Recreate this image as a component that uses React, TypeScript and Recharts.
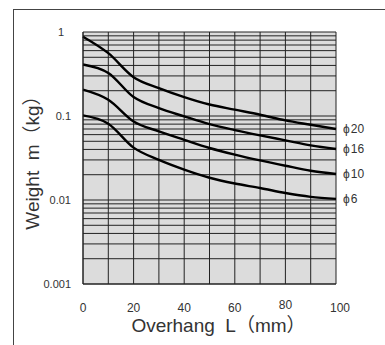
import React from "react";
import { LineChart, Line, XAxis, YAxis, CartesianGrid, Label } from "recharts";

const overhang = [0, 10, 20, 30, 40, 50, 60, 70, 80, 90, 100];
const phi20 = [0.88, 0.56, 0.29, 0.215, 0.168, 0.137, 0.119, 0.1036, 0.0887, 0.0787, 0.07];
const phi16 = [0.41, 0.325, 0.168, 0.124, 0.099, 0.08, 0.068, 0.0588, 0.0513, 0.0447, 0.0405];
const phi10 = [0.206, 0.156, 0.086, 0.0656, 0.052, 0.0416, 0.0347, 0.0296, 0.0256, 0.0223, 0.0204];
const phi6 = [0.1016, 0.081, 0.042, 0.03, 0.023, 0.0184, 0.0157, 0.0139, 0.0121, 0.0109, 0.0103];

const seriesNames = ["\u03d5\u200a20", "\u03d5\u200a16", "\u03d5\u200a10", "\u03d5\u200a6"];
const seriesKeys = ["p20", "p16", "p10", "p6"];

const xTicks = [0, 10, 20, 30, 40, 50, 60, 70, 80, 90, 100];
const xTickLabels = ["0", "", "20", "", "40", "", "60", "", "80", "", "100"];
const yTicks = [
  0.001, 0.002, 0.003, 0.004, 0.005, 0.006, 0.007, 0.008, 0.009,
  0.01, 0.02, 0.03, 0.04, 0.05, 0.06, 0.07, 0.08, 0.09,
  0.1, 0.2, 0.3, 0.4, 0.5, 0.6, 0.7, 0.8, 0.9, 1,
];
const yTickLabels: Record<string, string> = { "0.001": "0.001", "0.01": "0.01", "0.1": "0.1", "1": "1" };

const data = overhang.map((L, i) => ({
  L,
  p20: phi20[i],
  p16: phi16[i],
  p10: phi10[i],
  p6: phi6[i],
}));

const FONT = "'Liberation Sans', Arial, 'Noto Sans CJK JP', sans-serif";
const TEXT = "#333";

const XTick = (props: any) => {
  const { x, y, index } = props;
  const label = xTickLabels[index] ?? "";
  if (!label) return null;
  const dy = label === "80" ? -3 : 0;
  const dx = label === "100" ? 4 : 0;
  return (
    <text x={x + dx} y={y + 16 + dy} textAnchor="middle" dominantBaseline="central" fontSize={12} fontFamily={FONT} fill={TEXT}>
      {label}
    </text>
  );
};

const YTick = (props: any) => {
  const { x, y, payload } = props;
  const label = yTickLabels[String(payload.value)];
  if (!label) return null;
  const dx = label === "1" ? -7 : 0;
  return (
    <text x={x - 4 + dx} y={y} textAnchor="end" dominantBaseline="central" fontSize={11} fontFamily={FONT} fill={TEXT}>
      {label}
    </text>
  );
};

const makeEndLabel = (name: string) => (props: any) => {
  const { x, y, index } = props;
  if (index !== overhang.length - 1) return null;
  return (
    <text x={x + 7} y={y} textAnchor="start" dominantBaseline="central" fontSize={12} fontFamily={FONT} fill={TEXT}>
      {name}
    </text>
  );
};

export default function App() {
  return (
    <div style={{ position: "absolute", left: 0, top: 0, width: 385, height: 345, background: "#fff", overflow: "hidden" }}>
      <div
        style={{
          position: "absolute",
          left: 13,
          top: 9,
          width: 420,
          height: 420,
          borderLeft: "1px solid #444",
          borderTop: "1px solid #444",
        }}
      />
      <div style={{ position: "absolute", left: 0, top: 0 }}>
        <LineChart width={385} height={345} data={data} margin={{ top: 32, right: 49, left: 23, bottom: 31 }}>
          <CartesianGrid stroke="#222" strokeWidth={1} fill="#dcdcdc" fillOpacity={1} />
          <XAxis
            dataKey="L"
            type="number"
            domain={[0, 100]}
            ticks={xTicks}
            interval={0}
            tickLine={false}
            axisLine={{ stroke: "#222" }}
            height={30}
            tick={<XTick />}
          >
            <Label
              content={(p: any) => {
                const vb = p.viewBox || {};
                return (
                  <text x={vb.x + vb.width / 2 + 9} y={325} textAnchor="middle" dominantBaseline="central" fontSize={19} fontFamily={FONT} fill={TEXT}>
                    {"Overhang\u00a0\u00a0L\uff08mm\uff09"}
                  </text>
                );
              }}
            />
          </XAxis>
          <YAxis
            type="number"
            scale="log"
            domain={[0.001, 1]}
            allowDataOverflow
            ticks={yTicks}
            interval={0}
            tickLine={false}
            axisLine={{ stroke: "#222" }}
            width={60}
            tick={<YTick />}
          >
            <Label
              content={(p: any) => {
                const vb = p.viewBox || {};
                const cy = vb.y + vb.height / 2;
                return (
                  <text x={32} y={cy} transform={`rotate(-90 32 ${cy})`} textAnchor="middle" dominantBaseline="central" fontSize={19} fontFamily={FONT} fill={TEXT}>
                    {"Weight\u00a0\u00a0m\uff08kg\uff09"}
                  </text>
                );
              }}
            />
          </YAxis>
          {seriesKeys.map((k, i) => (
            <Line
              key={k}
              dataKey={k}
              type="monotone"
              stroke="#000"
              strokeWidth={2.4}
              dot={false}
              activeDot={false}
              isAnimationActive={false}
              label={makeEndLabel(seriesNames[i])}
            />
          ))}
        </LineChart>
      </div>
    </div>
  );
}
